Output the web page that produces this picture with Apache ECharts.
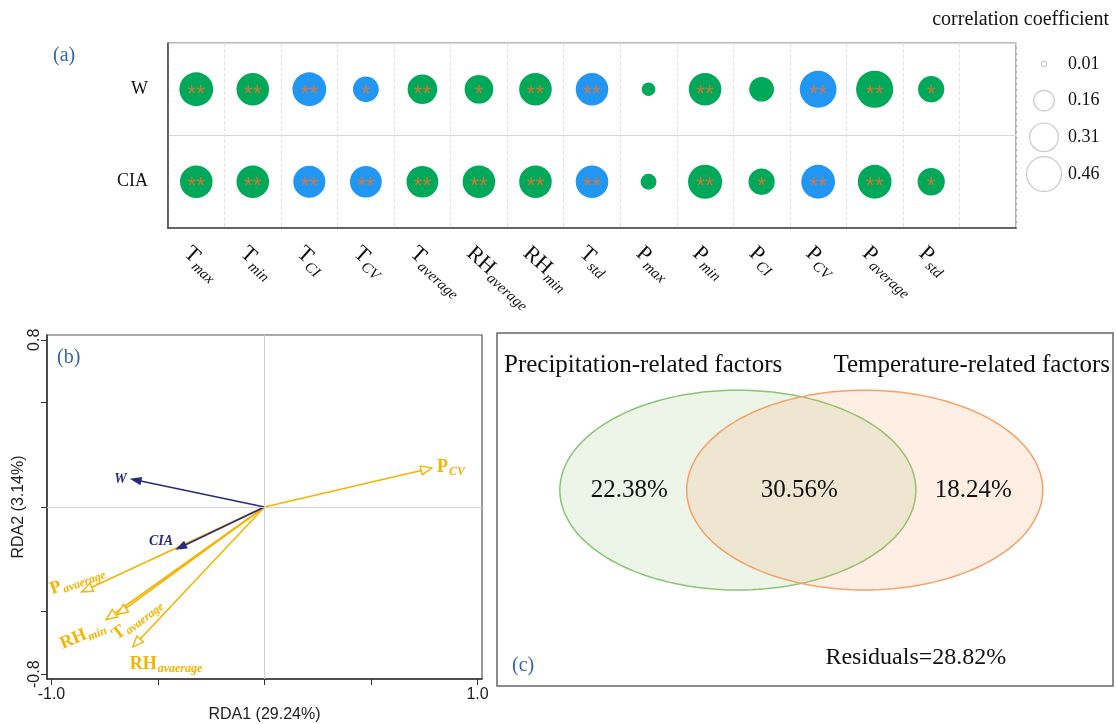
<!DOCTYPE html>
<html><head><meta charset="utf-8">
<script src="https://cdn.jsdelivr.net/npm/echarts@6/dist/echarts.min.js"></script>
<style>html,body{margin:0;padding:0;background:#fff}#c{width:1116px;height:724px}</style>
</head><body><div id="c"></div>
<script>
// ---------- panel (a) data ----------
const factors = ['T_max','T_min','T_CI','T_CV','T_average','RH_average','RH_min','T_std','P_max','P_min','P_CI','P_CV','P_average','P_std'];
const xSlots = factors.concat(['']);
const rowNames = ['W','CIA'];
const corrW   = [0.43, 0.40, -0.43, -0.25, 0.33, 0.31, 0.40, -0.40, 0.07, 0.40, 0.23, -0.51, 0.52, 0.26];
const corrCIA = [0.40, 0.40, -0.39, -0.38, 0.38, 0.40, 0.40, -0.40, 0.095, 0.44, 0.26, -0.43, 0.43, 0.28];
const sigW    = ['**','**','**','*','**','*','**','**','','**','','**','**','*'];
const sigCIA  = ['**','**','**','**','**','**','**','**','','**','*','**','**','*'];
const legendValues = [0.01, 0.16, 0.31, 0.46];
const legendLabels = ['0.01','0.16','0.31','0.46'];
const legendTitle = 'correlation coefficient';

// ---------- panel (b) data ----------
const rdaNames = ['W','CIA','P_CV','P_avaerage','RH_min','T_avaerage','RH_avaerage'];
const rdaType  = ['response','response','factor','factor','factor','factor','factor'];
const rda1 = [-0.623, -0.41, 0.786, -0.858, -0.744, -0.692, -0.619];
const rda2 = [0.133, -0.20, 0.187, -0.406, -0.539, -0.515, -0.670];
const rdaAxisNames = ['RDA1 (29.24%)', 'RDA2 (3.14%)'];
const rdaXTicks = [-1, -0.5, 0, 0.5, 1];
const rdaXLabels = [-1, 1];
const rdaYTicks = [-0.8, -0.5, 0, 0.5, 0.8];
const rdaYLabels = [-0.8, 0.8];

// ---------- panel (c) data ----------
const vennSets = ['Precipitation-related factors', 'Temperature-related factors'];
const vennShares = [22.38, 30.56, 18.24];   // precip only, shared, temp only
const vennResidual = 28.82;

// ---------- styles ----------
const SERIF = '"Liberation Serif", "Times New Roman", serif';
const SANS = '"Liberation Sans", Arial, sans-serif';
const GREEN = '#00A85A', BLUE = '#2196F3';
const NAVY = '#2B2A7C', GOLD = '#F5B400';
const PANEL_BLUE = '#3467A7';
const sizeOf = v => 51.5 * Math.sqrt(Math.abs(v));

function subFmt(name) {
  if (!name) return '';
  const parts = name.split('_');
  return parts[1] ? '{m|' + parts[0] + '}{s|' + parts[1] + '}' : '{m|' + parts[0] + '}';
}

const bubbleData = [];
[corrW, corrCIA].forEach((arr, r) => {
  const sig = r === 0 ? sigW : sigCIA;
  arr.forEach((v, c) => bubbleData.push({ value: [c, r, v], sig: sig[c] }));
});

const rdaLabelLayout = {
  W: { dx: -5, dy: 0, align: 'right', rot: 0 },
  CIA: { dx: -4, dy: -7, align: 'right', rot: 0 },
  P_CV: { dx: 5, dy: -1, align: 'left', rot: 0 },
  P_avaerage: { dx: -31, dy: -2, align: 'left', rot: 0.35 },
  RH_min: { dx: -45, dy: 25, align: 'left', rot: 0.4 },
  T_avaerage: { dx: -3, dy: 22, align: 'left', rot: 0.65 },
  RH_avaerage: { dx: -3, dy: 17, align: 'left', rot: 0 }
};
const richResp = { m: { fontFamily: SERIF, fontStyle: 'italic', fontWeight: 'bold', fontSize: 14, fill: NAVY } };
const richFactor = {
  m: { fontFamily: SERIF, fontWeight: 'bold', fontSize: 18, fill: GOLD },
  s: { fontFamily: SERIF, fontWeight: 'bold', fontStyle: 'italic', fontSize: 12, fill: GOLD, padding: [9, 0, 0, 1] }
};

function rdaRender(params, api) {
  const idx = api.value(2);
  const name = rdaNames[idx];
  const isResp = rdaType[idx] === 'response';
  const p0 = api.coord([0, 0]);
  const p1 = api.coord([api.value(0), api.value(1)]);
  const dx = p1[0] - p0[0], dy = p1[1] - p0[1];
  const L = Math.hypot(dx, dy), ux = dx / L, uy = dy / L, nx = -uy, ny = ux;
  const H = isResp ? 9 : 11, W2 = isResp ? 3.2 : 4.5;
  const base = [p1[0] - ux * H, p1[1] - uy * H];
  const color = isResp ? NAVY : GOLD;
  const lay = rdaLabelLayout[name];
  return {
    type: 'group',
    children: [
      { type: 'line', shape: { x1: p0[0], y1: p0[1], x2: base[0], y2: base[1] }, style: { stroke: color, lineWidth: 1.6 } },
      { type: 'polygon', shape: { points: [p1, [base[0] + nx * W2, base[1] + ny * W2], [base[0] - nx * W2, base[1] - ny * W2]] },
        style: { fill: isResp ? color : '#fff', stroke: color, lineWidth: 1.4 } },
      { type: 'text', x: p1[0] + lay.dx, y: p1[1] + lay.dy, rotation: lay.rot,
        style: { text: subFmt(name), rich: isResp ? richResp : richFactor, align: lay.align, verticalAlign: 'middle' } }
    ]
  };
}

const vennLayout = { c1: [0.391, 0.445], c2: [0.597, 0.445], rx: 0.289, ry: 0.283, titleY: 32, resid: [0.68, 0.92] };
function ellipsePts(cx, cy, rx, ry) {
  const pts = [];
  for (let k = 0; k < 160; k++) { const t = k / 160 * 2 * Math.PI; pts.push([cx + rx * Math.cos(t), cy + ry * Math.sin(t)]); }
  return pts;
}
function vennRender(params, api) {
  const cs = params.coordSys;
  const cx1 = cs.x + vennLayout.c1[0] * cs.width, cx2 = cs.x + vennLayout.c2[0] * cs.width;
  const cy = cs.y + vennLayout.c1[1] * cs.height;
  const rx = vennLayout.rx * cs.width, ry = vennLayout.ry * cs.height;
  const numStyle = { fontFamily: SERIF, fontSize: 25, fill: '#111', align: 'center', verticalAlign: 'middle' };
  const pos = [((cx1 - rx) + (cx2 - rx)) / 2 + 6, ((cx2 - rx) + (cx1 + rx)) / 2 - 2, ((cx1 + rx) + (cx2 + rx)) / 2 - 6];
  const children = [
    { type: 'polygon', shape: { points: ellipsePts(cx1, cy, rx, ry) }, style: { fill: 'rgba(145,195,110,0.17)', stroke: '#86C573', lineWidth: 1.5 } },
    { type: 'polygon', shape: { points: ellipsePts(cx2, cy, rx, ry) }, style: { fill: 'rgba(250,165,110,0.19)', stroke: '#F7A06A', lineWidth: 1.5 } },
    { type: 'text', x: cs.x + 7, y: cs.y + vennLayout.titleY, style: { text: vennSets[0], fontFamily: SERIF, fontSize: 25, fill: '#111', align: 'left', verticalAlign: 'middle' } },
    { type: 'text', x: cs.x + cs.width - 3, y: cs.y + vennLayout.titleY, style: { text: vennSets[1], fontFamily: SERIF, fontSize: 25, fill: '#111', align: 'right', verticalAlign: 'middle' } },
    { type: 'text', x: cs.x + vennLayout.resid[0] * cs.width, y: cs.y + vennLayout.resid[1] * cs.height,
      style: Object.assign({ text: 'Residuals=' + vennResidual.toFixed(2) + '%' }, numStyle, { fontSize: 24 }) }
  ];
  vennShares.forEach((v, i) => children.push({ type: 'text', x: pos[i], y: cy, style: Object.assign({ text: v.toFixed(2) + '%' }, numStyle) }));
  return { type: 'group', children };
}

const chart = echarts.init(document.getElementById('c'), null, { renderer: 'canvas', width: 1116, height: 724 });
chart.setOption({
  animation: false,
  backgroundColor: '#fff',
  grid: [
    { left: 168, top: 43, right: 100, bottom: 496, show: true, borderColor: '#777', borderWidth: 1.2, containLabel: false },
    { left: 1030, right: 58, top: 64, bottom: 550, containLabel: false },
    { left: 47, top: 335, right: 634, bottom: 38, show: true, borderColor: '#555', borderWidth: 1.2, containLabel: false },
    { left: 497, top: 333, right: 3, bottom: 38, show: true, borderColor: '#666', borderWidth: 1.5, containLabel: false }
  ],
  xAxis: [
    { type: 'category', gridIndex: 0, data: xSlots, boundaryGap: true,
      axisLine: { lineStyle: { color: '#444', width: 1.5 } },
      axisTick: { alignWithLabel: true, interval: 0, length: 10, lineStyle: { color: '#444', width: 1.2 } },
      axisLabel: { interval: 0, rotate: -42, margin: 12, verticalAlign: 'top', formatter: subFmt,
        rich: { m: { fontFamily: SERIF, fontSize: 22, color: '#111' },
                s: { fontFamily: SERIF, fontStyle: 'italic', fontSize: 15, color: '#111', padding: [13, 0, 0, 1] } } },
      splitLine: { show: true, interval: 0, lineStyle: { color: '#e3e3e3', type: 'dashed' } } },
    { type: 'category', gridIndex: 1, data: [''], show: false },
    { type: 'value', gridIndex: 2, min: -1.021, max: 1.021,
      axisLine: { show: true, onZero: false, lineStyle: { color: '#333', width: 1.5 } },
      axisTick: { show: true, customValues: rdaXTicks, length: 6, lineStyle: { color: '#333' } },
      axisLabel: { customValues: rdaXLabels, formatter: v => v.toFixed(1), fontFamily: SANS, fontSize: 16, color: '#222', margin: 8 },
      splitLine: { show: false },
      name: rdaAxisNames[0], nameLocation: 'middle', nameGap: 28, nameTextStyle: { fontFamily: SANS, fontSize: 16, color: '#222' } },
    { type: 'value', gridIndex: 3, min: 0, max: 1, show: false }
  ],
  yAxis: [
    { type: 'category', gridIndex: 0, data: rowNames, inverse: true,
      axisLine: { lineStyle: { color: '#444', width: 1.5 } },
      axisTick: { alignWithLabel: true, length: 10, lineStyle: { color: '#444', width: 1.2 } },
      axisLabel: { fontFamily: SERIF, fontSize: 18, color: '#111', margin: 20 },
      splitLine: { show: true, lineStyle: { color: '#d9d9d9' } } },
    { type: 'category', gridIndex: 1, data: legendLabels, inverse: true, boundaryGap: false, position: 'right',
      axisLine: { show: false }, axisTick: { show: false },
      axisLabel: { fontFamily: SERIF, fontSize: 18, color: '#111', margin: 10 }, splitLine: { show: false } },
    { type: 'value', gridIndex: 2, min: -0.823, max: 0.823,
      axisLine: { show: true, onZero: false, lineStyle: { color: '#333', width: 1.5 } },
      axisTick: { show: true, customValues: rdaYTicks, length: 6, lineStyle: { color: '#333' } },
      axisLabel: { customValues: rdaYLabels, formatter: v => v.toFixed(1), rotate: 90, fontFamily: SANS, fontSize: 16, color: '#222', margin: 4 },
      splitLine: { show: false },
      name: rdaAxisNames[1], nameLocation: 'middle', nameGap: 16, nameTextStyle: { fontFamily: SANS, fontSize: 16, color: '#222' } },
    { type: 'value', gridIndex: 3, min: 0, max: 1, show: false },
    { type: 'category', gridIndex: 0, data: rowNames, inverse: true, position: 'left',
      axisLine: { show: false }, axisLabel: { show: false }, splitLine: { show: false },
      axisTick: { length: 5, lineStyle: { color: '#444', width: 1.2 } } }
  ],
  graphic: [
    { type: 'text', left: 53, top: 46, style: { text: '(a)', font: '20px "Liberation Serif"', fill: PANEL_BLUE } },
    { type: 'text', left: 57, top: 348, style: { text: '(b)', font: '20px "Liberation Serif"', fill: PANEL_BLUE } },
    { type: 'text', left: 512, top: 656, style: { text: '(c)', font: '20px "Liberation Serif"', fill: PANEL_BLUE } },
    { type: 'text', right: 7, top: 10, style: { text: legendTitle, font: '20px "Liberation Serif"', fill: '#111' } }
  ],
  series: [
    { type: 'scatter', xAxisIndex: 0, yAxisIndex: 0, data: bubbleData, silent: true,
      symbolSize: val => sizeOf(val[2]),
      itemStyle: { color: p => (p.value[2] >= 0 ? GREEN : BLUE), opacity: 1 },
      label: { show: true, position: 'inside', formatter: p => p.data.sig, fontFamily: SANS, fontSize: 23,
        color: 'rgba(232,118,40,0.8)', offset: [0, 6] } },
    { type: 'scatter', xAxisIndex: 1, yAxisIndex: 1, silent: true,
      data: legendValues.map((v, i) => [0, i, v]), symbolSize: val => sizeOf(val[2]),
      itemStyle: { color: '#fff', borderColor: '#bdbdbd', borderWidth: 1.2 } },
    { type: 'scatter', xAxisIndex: 2, yAxisIndex: 2, data: [], silent: true,
      markLine: { silent: true, symbol: 'none', label: { show: false }, animation: false,
        lineStyle: { color: '#cfcfcf', type: 'solid', width: 1 }, data: [{ xAxis: 0 }, { yAxis: 0 }] } },
    { type: 'custom', xAxisIndex: 2, yAxisIndex: 2, silent: true, renderItem: rdaRender,
      data: rda1.map((x, i) => [x, rda2[i], i]).filter(d => rdaType[d[2]] === 'factor') },
    { type: 'custom', xAxisIndex: 2, yAxisIndex: 2, silent: true, renderItem: rdaRender,
      data: rda1.map((x, i) => [x, rda2[i], i]).filter(d => rdaType[d[2]] === 'response') },
    { type: 'custom', xAxisIndex: 3, yAxisIndex: 3, silent: true, renderItem: vennRender, data: [[0.5, 0.5]] }
  ]
});
</script></body></html>
